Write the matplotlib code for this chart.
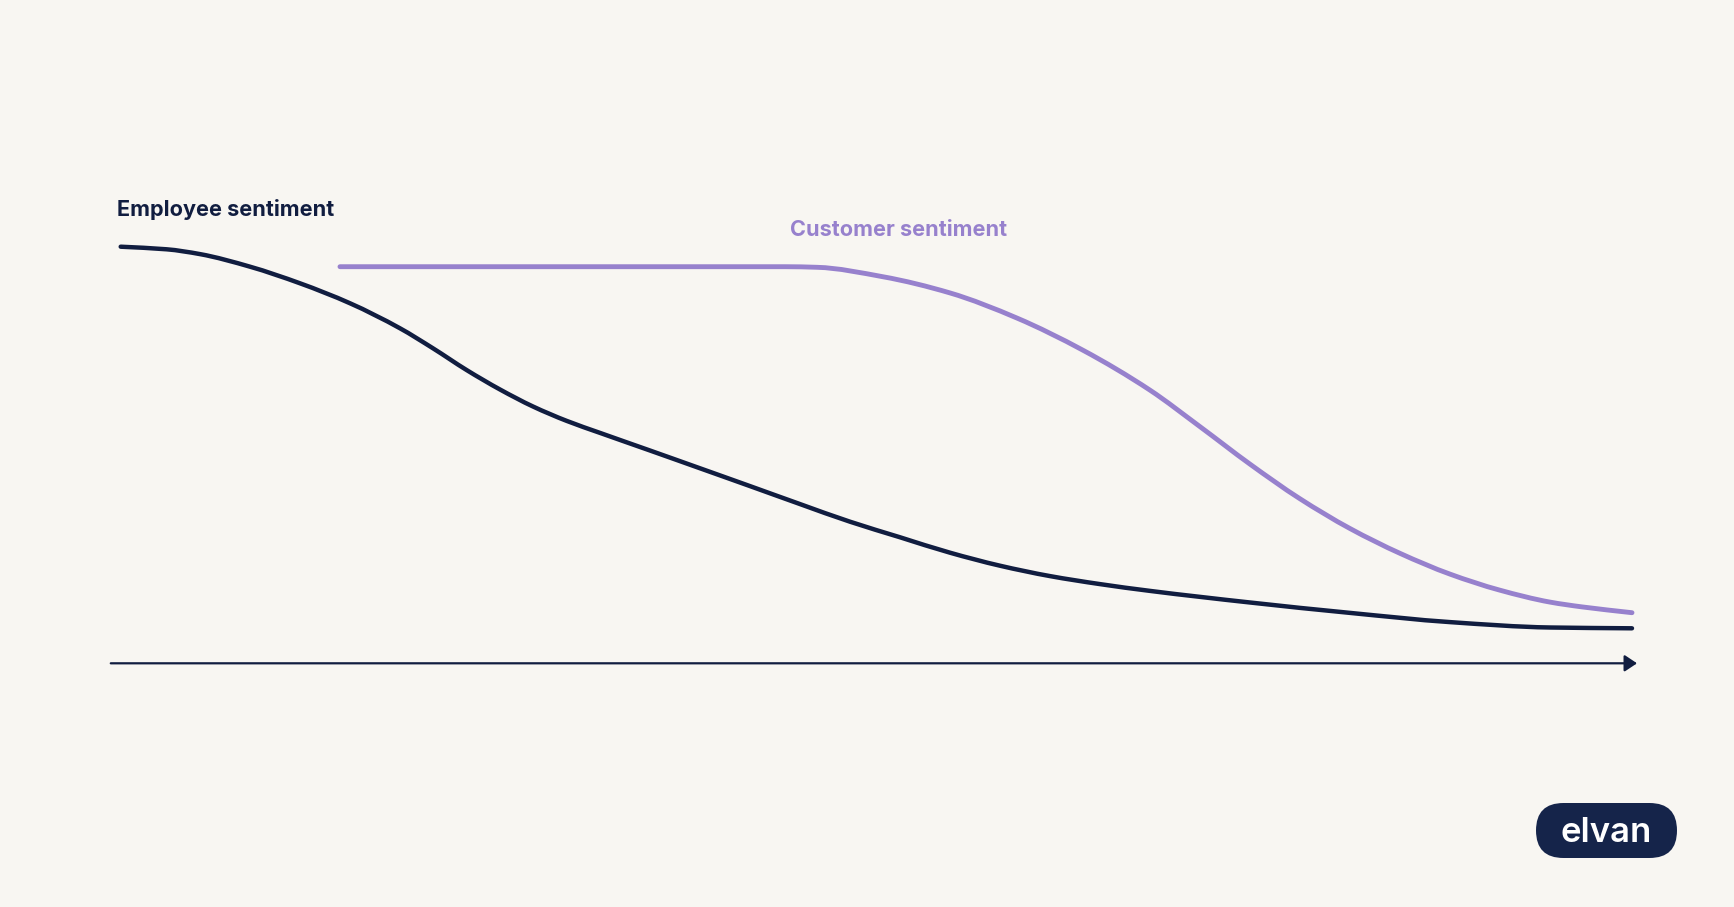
import matplotlib
matplotlib.use("Agg")
import matplotlib.pyplot as plt
import numpy as np
from matplotlib.patches import FancyBboxPatch, PathPatch
from matplotlib.path import Path
from matplotlib.transforms import IdentityTransform

plt.rcParams['font.family'] = ['Inter', 'DejaVu Sans']

# time runs 0..100 along the arrow, sentiment 0 sits on the arrow
employee_t = [0.70, 3.71, 5.89, 9.17, 12.44, 15.72, 18.99, 21.15, 23.36, 25.54,
              27.70, 29.91, 32.09, 35.36, 38.64, 41.91, 45.19, 48.46, 51.74, 55.01,
              58.28, 61.56, 64.83, 68.11, 74.66, 81.21, 87.75, 94.30, 99.67]
employee_s = [104.15, 103.5, 102.3, 99.15, 95.0, 90.0, 83.75, 78.75, 73.3, 68.45,
              64.2, 60.6, 57.6, 53.2, 48.75, 44.3, 39.8, 35.4, 31.5, 27.65,
              24.4, 21.8, 19.8, 18.1, 15.2, 12.6, 10.3, 8.95, 8.75]

customer_t = [15.06, 44.2, 46.3, 50.6, 55.0, 59.4, 63.7, 68.1, 71.4, 74.65,
              77.9, 81.2, 84.5, 87.75, 91.0, 94.3, 96.4, 99.67]
customer_s = [99.15, 99.15, 99.0, 96.65, 92.6, 86.3, 78.3, 68.3, 59.1, 49.8,
              41.2, 33.7, 27.45, 22.3, 18.3, 15.3, 14.1, 12.65]

labels = ["Employee sentiment", "Customer sentiment"]
brand = "elvan"

navy = "#111d40"
lavender = "#9781cd"
bg = "#f8f6f2"


def smooth_line(ax, xs, ys, color, lw):
    # draw a smooth curve through the points (monotone cubic bezier segments)
    x = np.asarray(xs, float)
    y = np.asarray(ys, float)
    h = np.diff(x)
    d = np.diff(y) / h
    n = len(x)
    m = np.zeros(n)
    m[0] = d[0]
    m[-1] = d[-1]
    for i in range(1, n - 1):
        if d[i - 1] * d[i] > 0:
            w1 = 2 * h[i] + h[i - 1]
            w2 = h[i] + 2 * h[i - 1]
            m[i] = (w1 + w2) / (w1 / d[i - 1] + w2 / d[i])
    verts = [(x[0], y[0])]
    codes = [Path.MOVETO]
    for i in range(n - 1):
        verts += [(x[i] + h[i] / 3, y[i] + m[i] * h[i] / 3),
                  (x[i + 1] - h[i] / 3, y[i + 1] - m[i + 1] * h[i] / 3),
                  (x[i + 1], y[i + 1])]
        codes += [Path.CURVE4] * 3
    ax.add_patch(PathPatch(Path(verts, codes), fill=False, edgecolor=color,
                           lw=lw, capstyle="round", joinstyle="round"))


fig = plt.figure(figsize=(17.34, 9.07), dpi=100)
fig.patch.set_facecolor(bg)
ax = fig.add_axes([0, 0, 1, 1])
ax.set_facecolor(bg)
ax.set_xlim(-7.204, 106.35)
ax.set_ylim(-60.925, 165.825)
ax.axis("off")

smooth_line(ax, customer_t, customer_s, lavender, 3.5)
smooth_line(ax, employee_t, employee_s, navy, 3.2)

# time axis with arrow head
ax.annotate("", xy=(100.0, 0), xytext=(0.05, 0),
            arrowprops=dict(arrowstyle="-|>,head_length=0.75,head_width=0.5",
                            color=navy, lw=1.6, shrinkA=0, shrinkB=0))

ax.text(0.46, 111.8, labels[0], color=navy, fontsize=15.6, fontweight="bold",
        ha="left", va="baseline")
ax.text(44.5, 106.8, labels[1], color=lavender, fontsize=15.6, fontweight="bold",
        ha="left", va="baseline")

# logo pill, drawn in pixels
pill = FancyBboxPatch((1536, 49), 141, 55, boxstyle="round,pad=0,rounding_size=27.5",
                      transform=IdentityTransform(), facecolor="#15244a",
                      edgecolor="none")
fig.patches.append(pill)
fig.text(1606.5, 65, brand, transform=IdentityTransform(), color="white",
         fontsize=25, fontweight="semibold", ha="center", va="baseline")

fig.savefig("out.png", dpi=100, facecolor=bg)
